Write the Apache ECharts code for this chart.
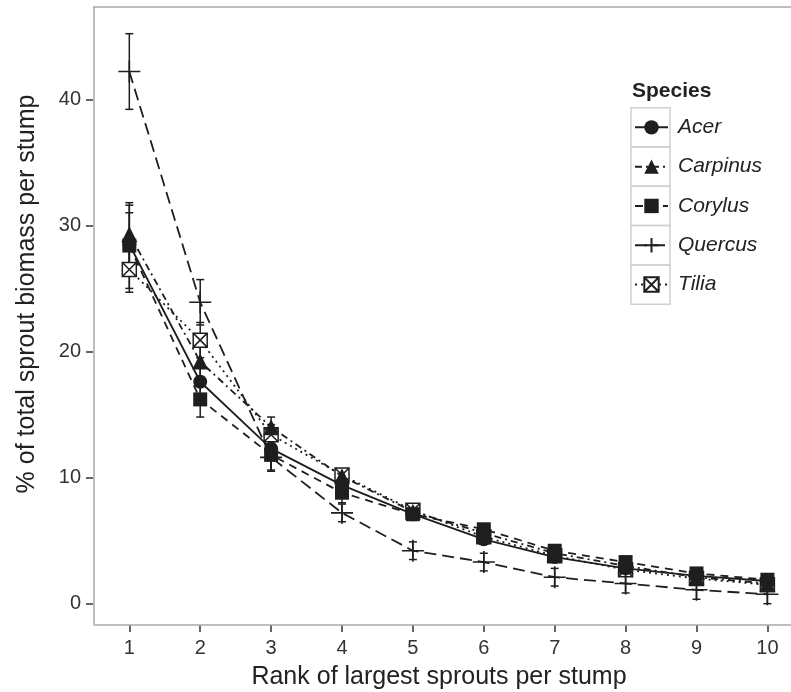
<!DOCTYPE html>
<html>
<head>
<meta charset="utf-8">
<script src="https://cdn.jsdelivr.net/npm/echarts@6/dist/echarts.min.js"></script>
<style>html,body{margin:0;padding:0;background:#fff;}#c{width:791px;height:692px;}</style>
</head>
<body>
<div id="c"></div>
<script>
const ranks = [1, 2, 3, 4, 5, 6, 7, 8, 9, 10];
const yTicks = [0, 10, 20, 30, 40];
const species = ['Acer', 'Carpinus', 'Corylus', 'Quercus', 'Tilia'];
const acerMean = [28.5, 17.6, 12.3, 9.4, 7.1, 5.1, 3.7, 2.8, 2.2, 1.8];
const acerSE = [2.5, 1.1, 0.7, 0.5, 0.4, 0.35, 0.3, 0.25, 0.2, 0.2];
const carpinusMean = [29.3, 19.2, 14.0, 10.1, 7.3, 5.6, 4.0, 3.0, 2.1, 1.6];
const carpinusSE = [2.3, 1.2, 0.8, 0.5, 0.4, 0.35, 0.3, 0.25, 0.2, 0.2];
const corylusMean = [28.4, 16.2, 11.8, 8.8, 7.1, 5.9, 4.2, 3.3, 2.4, 1.9];
const corylusSE = [3.4, 1.4, 1.3, 0.8, 0.5, 0.4, 0.35, 0.3, 0.25, 0.2];
const quercusMean = [42.2, 23.9, 11.6, 7.2, 4.2, 3.3, 2.1, 1.6, 1.1, 0.75];
const quercusSE = [3.0, 1.8, 1.0, 0.7, 0.7, 0.7, 0.7, 0.75, 0.75, 0.75];
const tiliaMean = [26.5, 20.9, 13.4, 10.2, 7.4, 5.3, 3.8, 2.7, 2.0, 1.5];
const tiliaSE = [1.8, 1.4, 0.8, 0.5, 0.4, 0.3, 0.3, 0.25, 0.2, 0.2];

const means = [acerMean, carpinusMean, corylusMean, quercusMean, tiliaMean];
const ses = [acerSE, carpinusSE, corylusSE, quercusSE, tiliaSE];

// axis extents (the grid reaches a few px past the panel frame so the outward ticks fit inside it)
const X_MIN = 0.389, X_MAX = 10.508, Y_MIN = -2.245, Y_MAX = 47.34;
// panel frame position in data units
const FRAME_X = 0.492, FRAME_Y = -1.634;
const INK = '#1e1e1e';
const FRAME = '#a8a8a8';
const FONT = '"Liberation Sans", Arial, sans-serif';
const styles = [
  { symbol: 'circle', size: 14, dash: 'solid', fill: INK, bw: 0, z: 3 },
  { symbol: 'triangle', size: 16, dash: [7, 4, 2, 4], fill: INK, bw: 0, z: 4 },
  { symbol: 'rect', size: 14, dash: [8, 6], fill: INK, bw: 0, z: 6 },
  { symbol: 'path://M0,10L20,10M10,0L10,20', size: 22, dash: [12, 6], fill: 'transparent', bw: 1.6, z: 5 },
  { symbol: 'path://M0,0L10,0L10,10L0,10ZM0,0L10,10M10,0L0,10', size: 14, dash: [2, 4], fill: '#ffffff', bw: 1.5, z: 2 }
];

const series = [];
species.forEach(function (name, i) {
  const errData = ranks.map(function (r, j) { return [r, means[i][j] - ses[i][j], means[i][j] + ses[i][j]]; });
  series.push({
    name: name + ' SE',
    type: 'custom',
    z: 1,
    silent: true,
    data: errData,
    renderItem: function (params, api) {
      const x = api.value(0);
      const lo = api.coord([x, api.value(1)]);
      const hi = api.coord([x, api.value(2)]);
      const w = 4;
      const st = { stroke: INK, lineWidth: 1.5 };
      return {
        type: 'group',
        children: [
          { type: 'line', shape: { x1: lo[0], y1: lo[1], x2: hi[0], y2: hi[1] }, style: st },
          { type: 'line', shape: { x1: lo[0] - w, y1: lo[1], x2: lo[0] + w, y2: lo[1] }, style: st },
          { type: 'line', shape: { x1: hi[0] - w, y1: hi[1], x2: hi[0] + w, y2: hi[1] }, style: st }
        ]
      };
    }
  });
});
species.forEach(function (name, i) {
  const s = styles[i];
  const ser = {
    name: name,
    type: 'line',
    z: s.z,
    data: ranks.map(function (r, j) { return [r, means[i][j]]; }),
    symbol: s.symbol,
    symbolSize: s.size,
    showAllSymbol: true,
    lineStyle: { color: INK, width: 1.8, type: s.dash },
    itemStyle: { color: s.fill, borderColor: INK, borderWidth: s.bw },
    emphasis: { disabled: true },
    animation: false
  };
  if (i === 0) {
    ser.markLine = {
      silent: true,
      symbol: 'none',
      animation: false,
      label: { show: false },
      emphasis: { disabled: true },
      lineStyle: { color: FRAME, width: 1.5, type: 'solid' },
      data: [
        [{ coord: [FRAME_X, FRAME_Y] }, { coord: [FRAME_X, Y_MAX] }],
        [{ coord: [FRAME_X, FRAME_Y] }, { coord: [X_MAX, FRAME_Y] }],
        [{ coord: [FRAME_X, Y_MAX] }, { coord: [X_MAX, Y_MAX] }]
      ]
    };
  }
  series.push(ser);
});

const graphics = [
  { type: 'text', x: 27, y: 294, rotation: Math.PI / 2,
    style: { text: '% of total sprout biomass per stump', font: '25px ' + FONT, fill: '#222', align: 'center', verticalAlign: 'middle' } },
  { type: 'text', x: 439, y: 677,
    style: { text: 'Rank of largest sprouts per stump', font: '25px ' + FONT, fill: '#222', align: 'center', verticalAlign: 'middle' } },
  { type: 'text', x: 632, y: 91,
    style: { text: 'Species', font: 'bold 21px ' + FONT, fill: '#222', align: 'left', verticalAlign: 'middle' } }
];
species.forEach(function (n, i) {
  graphics.push({ type: 'rect', shape: { x: 631, y: 107.7 + i * 39.3, width: 39, height: 39.3 },
    style: { fill: 'none', stroke: '#cfcfcf', lineWidth: 1.5 }, z: 100 });
});

const chart = echarts.init(document.getElementById('c'), null, { renderer: 'canvas' });
chart.setOption({
  backgroundColor: '#ffffff',
  animation: false,
  textStyle: { fontFamily: FONT },
  grid: { left: 86, top: 6.7, bottom: 60, right: -12.4, outerBoundsMode: 'none', containLabel: false },
  xAxis: {
    type: 'value', min: X_MIN, max: X_MAX, position: 'bottom',
    axisLine: { show: false, onZero: false },
    axisTick: { show: true, inside: true, length: 7, lineStyle: { color: '#333', width: 1.5 }, customValues: ranks },
    axisLabel: { show: true, fontSize: 20, color: '#333', margin: 6.5, customValues: ranks, fontFamily: FONT },
    splitLine: { show: false }
  },
  yAxis: {
    type: 'value', min: Y_MIN, max: Y_MAX,
    axisLine: { show: false, onZero: false },
    axisTick: { show: true, inside: true, length: 7, lineStyle: { color: '#333', width: 1.5 }, customValues: yTicks },
    axisLabel: { fontSize: 20, color: '#333', margin: 5, customValues: yTicks, fontFamily: FONT },
    splitLine: { show: false }
  },
  legend: {
    data: species,
    orient: 'vertical',
    left: 634, top: 107.7,
    padding: 0,
    itemGap: 0,
    itemWidth: 33, itemHeight: 18,
    selectedMode: false,
    textStyle: { fontSize: 21, fontStyle: 'italic', color: '#222', lineHeight: 39.3, padding: [0, 0, 0, 5], fontFamily: FONT }
  },
  graphic: graphics,
  series: series
});
</script>
</body>
</html>
